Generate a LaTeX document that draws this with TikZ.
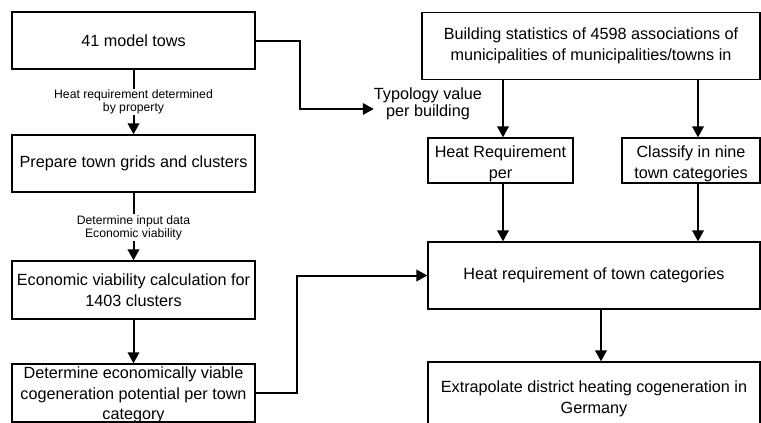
\documentclass[tikz,border=0pt]{standalone}
\usepackage{fontspec}
\setmainfont{Liberation Sans}
\usetikzlibrary{arrows.meta}
\begin{document}
\begin{tikzpicture}[x=1pt,y=-1pt,
  box/.style={draw, line width=1.3pt, inner sep=0pt, align=center,
    font=\fontsize{16.2}{21}\selectfont},
  txt/.style={inner sep=0pt, align=center, font=\fontsize{16.2}{21}\selectfont},
  arr/.style={line width=2pt, -{Triangle[length=11pt,width=11.5pt]}},
  lbl/.style={fill=white, inner sep=1pt, align=center, font=\fontsize{12.2}{13.5}\selectfont},
  plain/.style={inner sep=0pt, align=center, font=\fontsize{16.2}{17}\selectfont}]
\useasboundingbox (0,0) rectangle (761,423);
\clip (0,0) rectangle (761,423);
% left column
\node[box, minimum width=243pt, minimum height=57pt] (b1) at (133.5,40.5) {41 model tows};
\node[box, minimum width=243pt, minimum height=57pt] (b2) at (133.5,163.5) {Prepare town grids and clusters};
\node[box, minimum width=243pt, minimum height=58pt] (b3) at (133.5,290) {Economic viability calculation for\\1403 clusters};
\node[box, minimum width=243pt, minimum height=58pt] (b4) at (133.5,393) {};
\node[txt, font=\fontsize{16.2}{20.3}\selectfont] (b4t) at (133.5,395) {Determine economically viable\\cogeneration potential per town\\category};
% right column
\node[box, minimum width=338pt, minimum height=67pt] (bs) at (591,46) {Building statistics of 4598 associations of\\municipalities of municipalities/towns in};
\node[box, minimum width=145pt, minimum height=45pt] (hp) at (500.5,160.5) {};
\node[txt] (hpt) at (500.5,164) {Heat Requirement\\per};
\node[box, minimum width=138pt, minimum height=45pt] (cl) at (691,160.5) {};
\node[txt] (clt) at (691,164) {Classify in nine\\town categories};
\node[box, minimum width=332pt, minimum height=67pt] (hc) at (594,275.5) {Heat requirement of town categories};
\node[box, minimum width=332pt, minimum height=68pt] (ex) at (594,396) {};
\node[txt] (ext) at (594,398.5) {Extrapolate district heating cogeneration in\\Germany};
\node[plain] (typ) at (428,104) {Typology value\\per building};
% helper coordinates
\coordinate (xa) at (503,0);
\coordinate (xb) at (698,0);
\coordinate (xc) at (601,0);
\coordinate (t1) at (300,109);
\coordinate (t2) at (297,0);
% connectors
\draw[arr] (b1.south) -- node[lbl, pos=0.5] {Heat requirement determined\\by property} (b2.north);
\draw[arr] (b2.south) -- node[lbl, pos=0.52] {Determine input data\\Economic viability} (b3.north);
\draw[arr] (b3.south) -- (b4.north);
\draw[arr] (b1.east) -| (t1) -- (t1 -| typ.west);
\draw[arr] (b4.east) -- (b4.east -| t2) |- (hc.west);
\draw[arr] (bs.south -| xa) -- (hp.north -| xa);
\draw[arr] (bs.south -| xb) -- (cl.north -| xb);
\draw[arr] (hp.south -| xa) -- (hc.north -| xa);
\draw[arr] (cl.south -| xb) -- (hc.north -| xb);
\draw[arr] (hc.south -| xc) -- (ex.north -| xc);
\end{tikzpicture}
\end{document}
